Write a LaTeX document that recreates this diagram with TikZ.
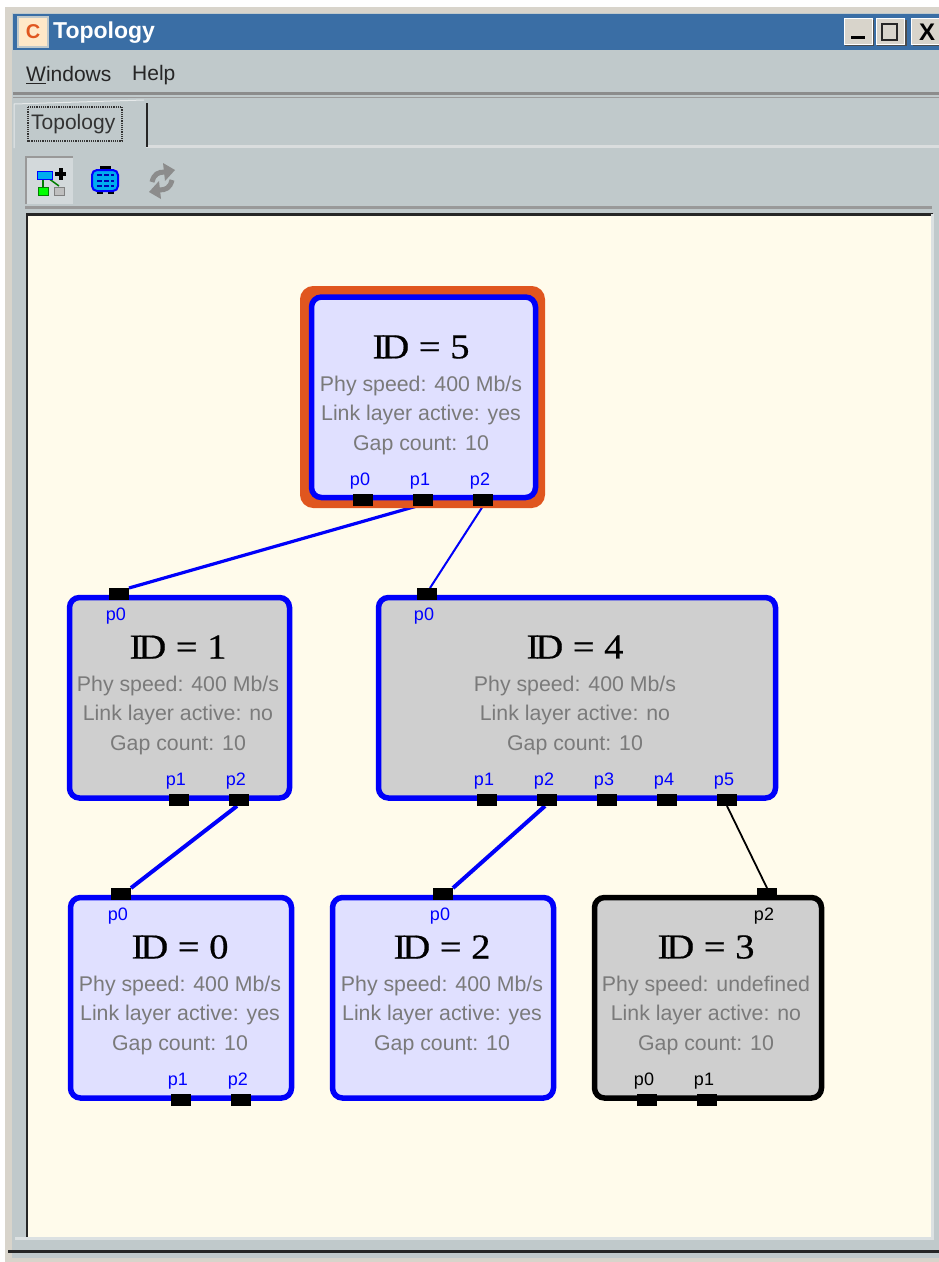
\documentclass[tikz,border=0pt]{standalone}
\usepackage{fontspec}
\setmainfont{Liberation Sans}
\newfontfamily\serifid[FakeBold=0.5]{Liberation Serif}
\definecolor{chrome}{HTML}{C0C9CB}
\definecolor{titleblue}{HTML}{3A6EA5}
\definecolor{canvas}{HTML}{FFFBEB}
\definecolor{beige}{HTML}{D8D4CB}
\definecolor{lilac}{HTML}{E0E0FF}
\definecolor{boxgray}{HTML}{CFCFCF}
\definecolor{infogray}{HTML}{7A7A7A}
\definecolor{orangeedge}{HTML}{E0561F}
\definecolor{linkblue}{HTML}{0000FA}
\pgfdeclarelayer{win}
\pgfdeclarelayer{links}
\pgfsetlayers{win,links,main}
\tikzset{
  x=1pt,y=-1pt,
  devbox/.style={draw=linkblue,line width=5.5pt,rounded corners=10pt,minimum width=#1,minimum height=200.5pt,inner sep=0pt,outer sep=0pt,anchor=north west},
  devbox/.default=200pt,
  portbox/.style={fill=black,minimum width=20pt,minimum height=12pt,inner sep=0pt,outer sep=0pt},
  plabel/.style={text=#1,font=\fontsize{18}{18}\selectfont,inner sep=0pt},
  idtext/.style={font=\serifid\fontsize{35}{35}\selectfont,inner sep=0pt,text=black},
  info/.style={font=\fontsize{21.3}{21.3}\selectfont,inner sep=0pt,text=infogray},
  link/.style={draw=linkblue,line width=#1},
  wbtn/.style={fill=beige,draw=white,line width=1pt,minimum height=26pt,inner sep=0pt},
  menutext/.style={font=\fontsize{21}{21}\selectfont,inner sep=0pt,text=black!85,anchor=west},
}
\newcommand{\devtext}[5]{% x center, y of id, id, speed, link
  \node[idtext] (id#3) at (#1,#2+1) {\scalebox{1.1}[1]{I\kern-3.5pt D = #3}};
  \node[info] (sp#3) at (#1,#2+39.5) {Phy speed: #4};
  \node[info] (ln#3) at (#1,#2+69) {Link layer active: #5};
  \node[info] (gc#3) at (#1,#2+99) {Gap count: 10};
}
\newcommand{\portT}[5]{% name x y label colour (label above)
  \node[portbox] (#1) at (#2,#3) {};
  \node[plabel=#5] (#1l) at (#2-3,#3-19) {#4};
}
\newcommand{\portB}[5]{% label below
  \node[portbox] (#1) at (#2,#3) {};
  \node[plabel=#5] (#1l) at (#2-3,#3+22) {#4};
}
\begin{document}
\begin{tikzpicture}
\useasboundingbox (0,0) rectangle (939,1262);
\begin{pgfonlayer}{win}
  \fill[white] (0,0) rectangle (939,1262);
  \fill[beige] (5,7) rectangle (939,1262);
  \fill[chrome] (12,13) rectangle (939,1258);
  \fill[titleblue] (13,14) rectangle (939,50);
  % menu separators
  \fill[black!45] (13,92) rectangle (939,95);
  \fill[black!40] (13,97) rectangle (939,98);
  % tab
  \fill[black!8!white!60!chrome] (14,145) rectangle (939,148);
  \fill[chrome] (14,104) -- (144,100) -- (146,148) -- (14,148) -- cycle;
  \draw[black!85,line width=2.5pt] (147,103) -- (147,147);
  \draw[white!60!chrome,line width=1pt] (14,148) -- (14,104) -- (144,100);
  % toolbar separator
  \fill[black!40] (25,206) rectangle (932,209);
  % canvas
  \fill[black!85] (26,213) rectangle (933,1238);
  \fill[canvas] (28,216) rectangle (931,1237);
  \fill[white!45!chrome] (931,214) rectangle (934,1240);
  \fill[white!45!chrome] (15,1237) rectangle (934,1240);
  % bottom line
  \fill[black!85] (8,1250) rectangle (939,1253);
  \fill[beige] (5,1258) rectangle (939,1262);
  % toolbar button
  \fill[white!30!chrome] (26,157) rectangle (73,204);
  \draw[black!40,line width=1.5pt] (26,204) -- (26,157) -- (73,157);
\end{pgfonlayer}

% window title
\node[fill=canvas!85!orange,draw=chrome,line width=1.5pt,minimum width=30pt,minimum height=30pt,inner sep=0pt,font=\bfseries\fontsize{20}{20}\selectfont,text=orangeedge] (wicon) at (33,32) {C};
\node[font=\bfseries\fontsize{23}{23}\selectfont,text=white,inner sep=0pt,anchor=west] (wtitle) at (53,33) {Topology};
\fill[black!70] (845,20) rectangle (874,46);
\node[wbtn,minimum width=28pt] (bmin) at (858,31) {};
\fill[black] (851,36) rectangle (865,39);
\fill[black!70] (877,20) rectangle (907,46);
\node[wbtn,minimum width=28pt] (bmax) at (890,31) {};
\draw[black!85,line width=2.5pt] (882,24) rectangle (897,40);
\fill[black!70] (913,20) rectangle (939,46);
\node[wbtn,minimum width=32pt] (bclose) at (927,31) {};
\node[font=\bfseries\fontsize{24}{24}\selectfont,inner sep=0pt] (xmark) at (927,32) {X};

% menu
\node[menutext] (mwin) at (26,75) {\underline{W}indows};
\node[menutext] (mhelp) at (132,75) {Help};
\node[menutext,text=black!80] (mtab) at (31,124) {Topology};
\draw[black!80,densely dotted,line width=1.2pt] (28,107) rectangle (122,141);

% toolbar icons
\fill[black] (55,172) rectangle (66,176);
\fill[black] (58.5,168) rectangle (62.5,180);
\draw[black!30!green!70!black,line width=1.5pt] (43,178) -- (43,188);
\draw[black!30!green!70!black,line width=1.5pt] (48,178) -- (59,186);
\draw[blue,fill=cyan,line width=1pt] (37,171) rectangle (52,179);
\draw[green!50!black,fill=green,line width=1pt] (38,187) rectangle (48,195);
\draw[black!50,fill=black!25,line width=1pt] (54,187) rectangle (64,195);
\fill[black] (100,166) rectangle (111,171);
\fill[black] (97,190) rectangle (103,194);
\fill[black] (108,190) rectangle (114,194);
\draw[blue,fill=cyan,line width=2pt,rounded corners=5pt] (92,170) rectangle (118,191);
\draw[blue!70!black,line width=2pt,dash pattern=on 5pt off 2pt] (97,175) -- (114,175) (97,181) -- (114,181) (97,186) -- (114,186);
\draw[black!45,line width=5pt] (152,182) .. controls (154,174) and (158,172) .. (165,172);
\fill[black!45] (163,163) -- (175,170) -- (165,181) -- cycle;
\draw[black!45,line width=5pt] (172,180) .. controls (170,188) and (166,190) .. (159,190);
\fill[black!45] (161,199) -- (149,192) -- (159,181) -- cycle;

% device boxes
\draw[orangeedge,line width=9pt,rounded corners=9pt,fill=orangeedge] (304.5,290.5) rectangle (540.5,503.5);
\node[devbox=224pt,fill=lilac] (dev5) at (311.5,297) {};
\node[devbox=220pt,fill=boxgray] (dev1) at (69.5,597.5) {};
\node[devbox=397pt,fill=boxgray] (dev4) at (378.5,597.5) {};
\node[devbox=221pt,fill=lilac] (dev0) at (70.5,897.5) {};
\node[devbox=221pt,fill=lilac] (dev2) at (332.5,897.5) {};
\node[devbox=227pt,fill=boxgray,draw=black] (dev3) at (594.5,897.5) {};

\devtext{421}{346}{5}{400 Mb/s}{yes}
\devtext{178}{646}{1}{400 Mb/s}{no}
\devtext{575}{646}{4}{400 Mb/s}{no}
\devtext{180}{946}{0}{400 Mb/s}{yes}
\devtext{442}{946}{2}{400 Mb/s}{yes}
\devtext{706}{946}{3}{undefined}{no}

% ports
\portT{a0}{363}{500}{p0}{blue}
\portT{a1}{423}{500}{p1}{blue}
\portT{a2}{483}{500}{p2}{blue}
\portB{b0}{119}{594}{p0}{blue}
\portT{b1}{179}{800}{p1}{blue}
\portT{b2}{239}{800}{p2}{blue}
\portB{c0}{427}{594}{p0}{blue}
\portT{c1}{487}{800}{p1}{blue}
\portT{c2}{547}{800}{p2}{blue}
\portT{c3}{607}{800}{p3}{blue}
\portT{c4}{667}{800}{p4}{blue}
\portT{c5}{727}{800}{p5}{blue}
\portB{d0}{121}{894}{p0}{blue}
\portT{d1}{181}{1100}{p1}{blue}
\portT{d2}{241}{1100}{p2}{blue}
\portB{e0}{443}{894}{p0}{blue}
\portB{f2}{767}{894}{p2}{black}
\portT{f0}{647}{1100}{p0}{black}
\portT{f1}{707}{1100}{p1}{black}

% links
\begin{pgfonlayer}{links}
  \draw[link=3.2pt] ([xshift=-6pt]a1.south) -- (b0.north east);
  \draw[link=2pt] (a2.south) -- ([xshift=3pt]c0.north);
  \draw[link=4pt] ([xshift=-2pt]b2.south) -- (d0.north east);
  \draw[link=4pt] ([xshift=-2pt]c2.south) -- (e0.north east);
  \draw[black,line width=1.8pt] (c5.south) -- (f2.north);
\end{pgfonlayer}
\end{tikzpicture}
\end{document}
